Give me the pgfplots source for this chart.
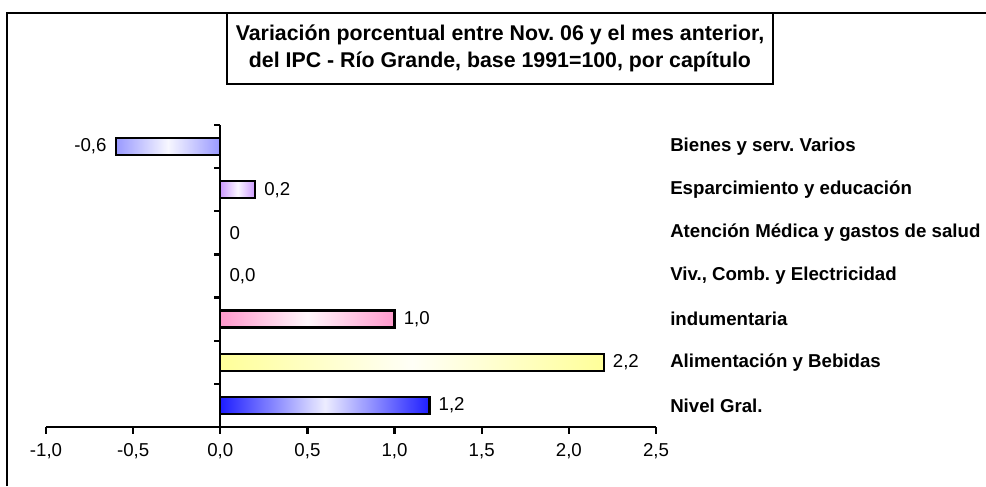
\documentclass[border=0pt]{standalone}
\usepackage{fontspec}
\setmainfont{Liberation Sans}
\usepackage{pgfplots}
\pgfplotsset{compat=1.18}
\frenchspacing

\definecolor{cNivel}{RGB}{30,30,255}
\definecolor{cAlim}{RGB}{255,255,153}
\definecolor{cIndum}{RGB}{255,153,204}
\definecolor{cEsparc}{RGB}{204,153,255}
\definecolor{cBienes}{RGB}{153,153,255}

\tikzset{
  mybar/.style={draw=black, line width=1.8pt, left color=#1, right color=#1, middle color=#1!8!white},
}

\begin{document}
\begin{tikzpicture}
\path[use as bounding box] (0,0) rectangle (739.5pt,-364.5pt);
% chart frame (only top and left edges visible)
\draw[line width=1.8pt] (5.25pt,-364.5pt) -- (5.25pt,-9.75pt) -- (739.5pt,-9.75pt);

\begin{axis}[
    at={(34.5pt,-320.25pt)}, anchor=south west,
    scale only axis,
    width=457.5pt, height=226.5pt,
    xmin=-1, xmax=2.5,
    ymin=-0.5, ymax=6.5,
    axis x line*=bottom,
    axis y line=none,
    x axis line style={line width=1.8pt},
    xtick={-1,-0.5,0,0.5,1,1.5,2,2.5},
    xtick style={line width=1.8pt, black},
    major tick length=5pt,
    tick align=outside,
    /pgf/number format/assume math mode=true,
    xticklabel style={/pgf/number format/fixed,
                      /pgf/number format/fixed zerofill,
                      /pgf/number format/precision=1,
                      /pgf/number format/use comma,
                      yshift=-4pt,
                      font=\fontsize{14}{16}\selectfont},
    xbar, bar width=12.75pt, bar shift=0pt,
    nodes near coords,
    point meta=explicit symbolic,
    every node near coord/.append style={text=black, inner sep=0pt,
        font=\fontsize{14}{16}\selectfont},
    clip=false,
]
% 0 Nivel Gral., 1 Alimentacion, 2 indumentaria, 3 Viv., 4 Atencion, 5 Esparcimiento, 6 Bienes
\addplot[mybar=cNivel, nodes near coords style={anchor=west, xshift=6pt}]
    coordinates {(1.2,0) [1{,}2]};
\addplot[mybar=cAlim, nodes near coords style={anchor=west, xshift=6pt}]
    coordinates {(2.2,1) [2{,}2]};
\addplot[mybar=cIndum, nodes near coords style={anchor=west, xshift=6pt}]
    coordinates {(1.0,2) [1{,}0]};
\addplot[draw=none, fill=none, nodes near coords style={anchor=west, xshift=6.75pt}]
    coordinates {(0.0,3) [0{,}0]};
\addplot[draw=none, fill=none, nodes near coords style={anchor=west, xshift=6.75pt}]
    coordinates {(0,4) [0]};
\addplot[mybar=cEsparc, nodes near coords style={anchor=west, xshift=6pt}]
    coordinates {(0.2,5) [0{,}2]};
\addplot[mybar=cBienes, nodes near coords style={anchor=east, xshift=-6pt}]
    coordinates {(-0.6,6) [-0{,}6]};

% y axis at x = 0 with ticks between categories
\draw[line width=1.8pt] (axis cs:0,-0.5) -- (axis cs:0,6.5);
\pgfplotsinvokeforeach{-0.5,0.5,1.5,2.5,3.5,4.5,5.5,6.5}{
  \draw[line width=1.8pt] (axis cs:0,#1) -- ([xshift=-5pt]axis cs:0,#1);
}

% category names
\begin{scope}[every node/.style={anchor=west, inner sep=0pt, xshift=10.5pt,
    font=\fontsize{14}{16}\selectfont\bfseries}]
\node at (axis cs:2.5,6) {Bienes y serv. Varios};
\node at (axis cs:2.5,5) {Esparcimiento y educación};
\node at (axis cs:2.5,4) {Atención Médica y gastos de salud};
\node at (axis cs:2.5,3) {Viv., Comb. y Electricidad};
\node at (axis cs:2.5,2) {indumentaria};
\node at (axis cs:2.5,1) {Alimentación y Bebidas};
\node at (axis cs:2.5,0) {Nivel Gral.};
\end{scope}
\end{axis}

% title box
\node[draw, line width=1.3pt, fill=white, minimum width=409.5pt, minimum height=53.25pt,
      align=center, font=\fontsize{16}{20}\selectfont\bfseries]
  at (375pt,-36.4pt)
  {Variación porcentual entre Nov. 06 y el mes anterior,\\del IPC - Río Grande, base 1991=100, por capítulo};
\end{tikzpicture}
\end{document}
